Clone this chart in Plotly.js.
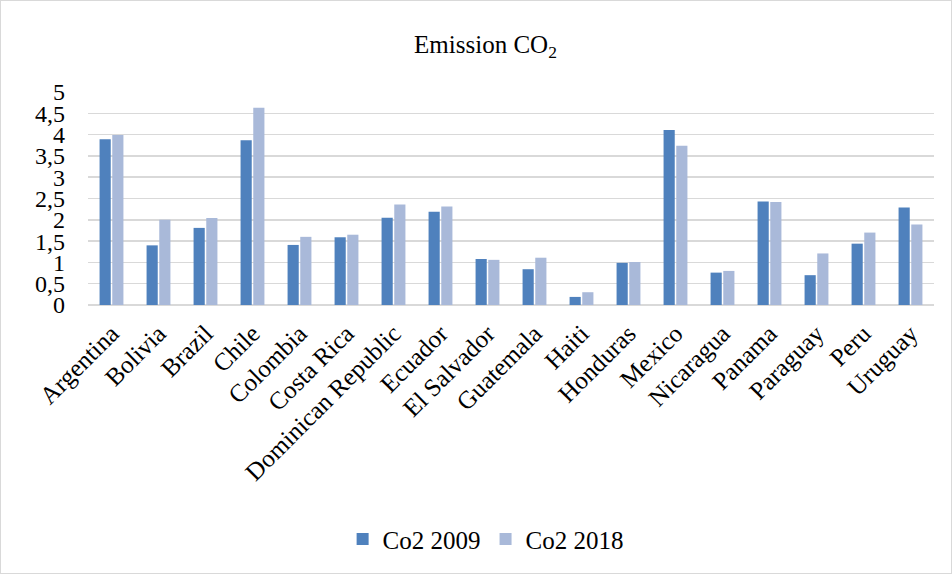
<!DOCTYPE html>
<html><head><meta charset="utf-8">
<script src="https://cdn.plot.ly/plotly-3.0.1.min.js"></script>
<style>html,body{margin:0;padding:0;background:#fff}#chart{width:952px;height:574px;box-sizing:border-box;border:1px solid #d9d9d9}</style>
</head><body><div id="chart"></div>
<script>
const countries = ["Argentina","Bolivia","Brazil","Chile","Colombia","Costa Rica","Dominican Republic","Ecuador","El Salvador","Guatemala","Haiti","Honduras","Mexico","Nicaragua","Panama","Paraguay","Peru","Uruguay"];
const co2_2009 = [3.89,1.40,1.81,3.87,1.41,1.59,2.05,2.19,1.08,0.84,0.19,0.99,4.11,0.76,2.43,0.70,1.44,2.29];
const co2_2018 = [3.99,2.00,2.04,4.63,1.60,1.65,2.36,2.31,1.06,1.11,0.30,1.01,3.74,0.80,2.42,1.21,1.70,1.89];
const yTickVals = [0,0.5,1,1.5,2,2.5,3,3.5,4,4.5,5];
const yTickText = ["0","0,5","1","1,5","2","2,5","3","3,5","4","4,5","5"];

const font = {family:"Liberation Serif, serif", color:"#000"};
const data = [
  {type:"bar", name:"Co2 2009", x:countries, y:co2_2009, marker:{color:"#4F81BD"}},
  {type:"bar", name:"Co2 2018", x:countries, y:co2_2018, marker:{color:"#A9B9D9"}}
];
const layout = {
  width:950, height:572,
  margin:{l:87,r:17,t:91,b:267},
  paper_bgcolor:"#fff", plot_bgcolor:"#fff",
  font:Object.assign({size:25},font),
  title:{text:"Emission CO<sub>2</sub>", font:Object.assign({size:25},font), xref:"container", x:0.51, xanchor:"center", yref:"container", y:0.925, yanchor:"middle"},
  barmode:"group", bargap:0.46, bargroupgap:0.12,
  xaxis:{tickangle:-45, tickfont:Object.assign({size:25},font), showgrid:false, showline:false, ticks:"", ticklabelstandoff:8, automargin:false},
  yaxis:{range:[0,5], tickvals:yTickVals, ticktext:yTickText, tickfont:Object.assign({size:24},font), showgrid:true, gridcolor:"#d9d9d9", gridwidth:1.5, zeroline:true, zerolinecolor:"#d9d9d9", zerolinewidth:1.5, showline:false, ticks:"", ticklabelstandoff:22, automargin:false},
  legend:{orientation:"h", x:0.47, xanchor:"center", y:-1.09, yanchor:"middle", font:Object.assign({size:25},font), traceorder:"normal", itemwidth:30},
  showlegend:true
};
Plotly.newPlot("chart", data, layout, {displayModeBar:false, staticPlot:true});
</script></body></html>
